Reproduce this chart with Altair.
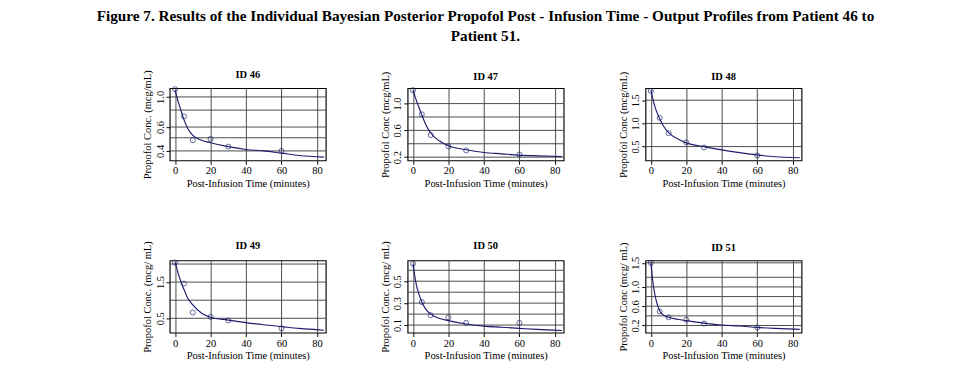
import altair as alt
import pandas as pd

# ---- data ----
T_OBS = [0, 5, 10, 20, 30, 60]
T_FIT = [0, 1, 2, 3, 5, 7, 10, 15, 20, 30, 40, 50, 60, 70, 84]

C46_OBS = [1.14, 0.72, 0.48, 0.49, 0.43, 0.40]
C46_FIT = [1.12, 1.0, 0.9, 0.82, 0.68, 0.59, 0.52, 0.48, 0.46, 0.43, 0.41, 0.40, 0.385, 0.37, 0.36]

C47_OBS = [1.20, 0.84, 0.53, 0.36, 0.30, 0.24]
C47_FIT = [1.2, 1.12, 1.04, 0.97, 0.83, 0.70, 0.56, 0.44, 0.37, 0.31, 0.27, 0.25, 0.23, 0.22, 0.21]

C48_OBS = [1.70, 1.12, 0.79, 0.59, 0.48, 0.31]
C48_FIT = [1.72, 1.55, 1.4, 1.28, 1.1, 0.95, 0.8, 0.67, 0.58, 0.5, 0.43, 0.37, 0.32, 0.28, 0.26]

C49_OBS = [2.04, 1.46, 0.66, 0.54, 0.44, 0.22]
C49_FIT = [2.05, 1.88, 1.7, 1.55, 1.3, 1.07, 0.87, 0.64, 0.53, 0.45, 0.38, 0.32, 0.27, 0.22, 0.17]

C50_OBS = [0.66, 0.31, 0.19, 0.17, 0.12, 0.12]
C50_FIT = [0.66, 0.55, 0.46, 0.40, 0.31, 0.25, 0.20, 0.16, 0.14, 0.11, 0.09, 0.08, 0.07, 0.06, 0.05]

C51_OBS = [1.50, 0.49, 0.37, 0.32, 0.24, 0.16]
C51_FIT = [1.5, 1.15, 0.9, 0.72, 0.5, 0.42, 0.37, 0.33, 0.30, 0.25, 0.21, 0.19, 0.16, 0.14, 0.12]

X_TICKS = [0, 20, 40, 60, 80]

SERIF = "Liberation Serif"
NAVY = "#1c1c6e"
GRID = "#444444"


def panel(pid, c_obs, c_fit, ytitle, domain, ticks, grid, scale_type="linear"):
    obs = pd.DataFrame({"t": T_OBS, "c": c_obs})
    fit = pd.DataFrame({"t": T_FIT, "c": c_fit})
    gdf = pd.DataFrame({"c": grid})
    xs = alt.Scale(domain=[-3, 85], nice=False, zero=False)
    ys = alt.Scale(type=scale_type, domain=domain, nice=False, zero=False)
    xax = alt.Axis(values=X_TICKS, title="Post-Infusion Time (minutes)", grid=True)
    yax = alt.Axis(values=ticks, title=ytitle, grid=False, format=".1f",
                   labelAngle=270, labelAlign="center", labelBaseline="bottom")
    rules = alt.Chart(gdf).mark_rule(color=GRID, strokeWidth=1).encode(
        y=alt.Y("c:Q", scale=ys, axis=yax),
    )
    line = alt.Chart(fit).mark_line(color=NAVY, strokeWidth=1.2, interpolate="monotone").encode(
        x=alt.X("t:Q", scale=xs, axis=xax),
        y=alt.Y("c:Q", scale=ys, axis=yax),
    )
    pts = alt.Chart(obs).mark_point(shape="circle", filled=False, color=NAVY, size=28,
                                    strokeWidth=1).encode(
        x=alt.X("t:Q", scale=xs, axis=xax),
        y=alt.Y("c:Q", scale=ys, axis=yax),
    )
    return alt.layer(rules, line, pts).properties(
        width=164, height=76,
        title=alt.TitleParams(f"ID {pid}", fontSize=11, fontWeight="bold", font=SERIF,
                              offset=-11, color="black"),
    )


p46 = panel(46, C46_OBS, C46_FIT, "Propofol Conc. (mcg/mL)", [0.34, 1.16], [0.4, 0.6, 1.0],
            [0.4, 0.5, 0.6, 0.8, 1.0], "log")
p47 = panel(47, C47_OBS, C47_FIT, "Propofol Conc (mcg/mL)", [0.15, 1.23], [0.2, 0.6, 1.0],
            [0.2, 0.4, 0.6, 0.8, 1.0])
p48 = panel(48, C48_OBS, C48_FIT, "Propofol Conc (mcg/mL)", [0.2, 1.76], [0.5, 1.0, 1.5],
            [0.5, 1.0, 1.5])
p49 = panel(49, C49_OBS, C49_FIT, "Propofol Conc. (mcg/ mL)", [0.1, 2.1], [0.5, 1.5],
            [0.5, 1.0, 1.5, 2.0])
p50 = panel(50, C50_OBS, C50_FIT, "Propofol Conc. (mcg/ mL)", [0.03, 0.69], [0.1, 0.3, 0.5],
            [0.1, 0.2, 0.3, 0.4, 0.5, 0.6])
p51 = panel(51, C51_OBS, C51_FIT, "Propofol Conc (mcg/ mL)", [0.05, 1.55], [0.2, 0.6, 1.0, 1.5],
            [0.2, 0.4, 0.6, 0.8, 1.0, 1.2, 1.5])

chart = alt.vconcat(
    alt.hconcat(p46, p47, p48, spacing=54),
    alt.hconcat(p49, p50, p51, spacing=54),
    spacing=53,
).properties(
    title=alt.TitleParams(
        ["Figure 7. Results of the Individual Bayesian Posterior Propofol Post - Infusion Time - Output Profiles from Patient 46 to",
         "Patient 51."],
        fontSize=16, fontWeight="bold", font=SERIF, anchor="middle", color="black",
        lineHeight=21, offset=-7, dx=14, dy=-34,
    ),
    padding={"left": 92, "right": 100, "top": -9, "bottom": 2},
).configure_view(
    stroke="black", strokeWidth=1.2
).configure_axis(
    domain=False, gridColor=GRID, gridWidth=1, tickColor="black", tickSize=4,
    labelFont=SERIF, titleFont=SERIF, labelFontSize=11, titleFontSize=11,
    titleFontWeight="normal", labelColor="black", titleColor="black",
    labelPadding=1, titlePadding=2,
)

chart.save("out.html", embed_options={"renderer": "svg", "actions": False})
